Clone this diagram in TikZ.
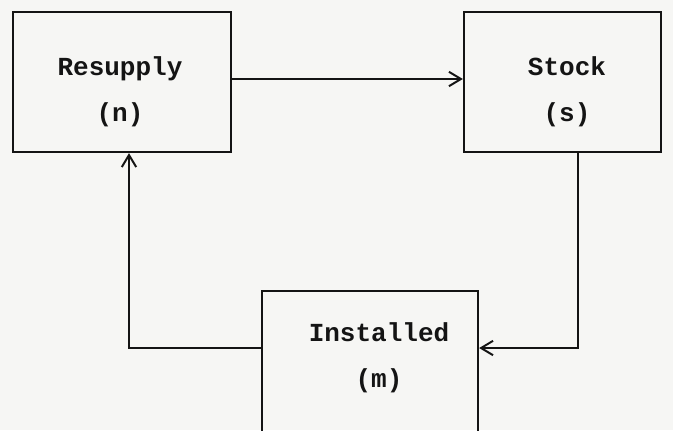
\documentclass[tikz,border=0pt]{standalone}
\usepackage{fontspec}
\setmonofont{Liberation Mono}
\usetikzlibrary{arrows.meta}
\definecolor{Ink}{RGB}{20,20,20}
\definecolor{Paper}{RGB}{246,246,244}
\tikzset{
  blockbox/.style={draw=Ink,line width=1.6pt,fill=none,minimum height=3.5cm,inner sep=0pt},
  blocktext/.style={text=Ink,align=center,font=\fontsize{18.5}{33}\selectfont\ttfamily\bfseries},
  flow/.style={-{Straight Barb[length=3mm,width=3.6mm,line width=1.4pt]},line width=1.4pt,draw=Ink}
}
\begin{document}
\begin{tikzpicture}[x=0.025cm,y=-0.025cm]
  \fill[Paper] (0,0) rectangle (673,430);
  \useasboundingbox (0,0) rectangle (673,430);
  % boxes
  \node[blockbox,minimum width=5.45cm] (res) at (122,82) {};
  \node[blockbox,minimum width=4.925cm] (stk) at (562.5,82) {};
  \node[blockbox,minimum width=5.4cm,minimum height=3.75cm] (inst) at (370,366) {};
  % labels
  \node[blocktext] (restxt) at (120,92) {Resupply\\(n)};
  \node[blocktext] (stktxt) at (567,92) {Stock\\(s)};
  \node[blocktext] (insttxt) at (379,358) {Installed\\(m)};
  % connectors
  \coordinate (sturn) at (578,348);
  \coordinate (rturn) at (129,348);
  \draw[flow] (res.east |- 0,79) -- (stk.west |- 0,79);
  \draw[flow] (stk.south -| sturn) -- (sturn) -- (inst.east |- sturn);
  \draw[flow] (inst.west |- rturn) -- (rturn) -- (res.south -| rturn);
\end{tikzpicture}
\end{document}
